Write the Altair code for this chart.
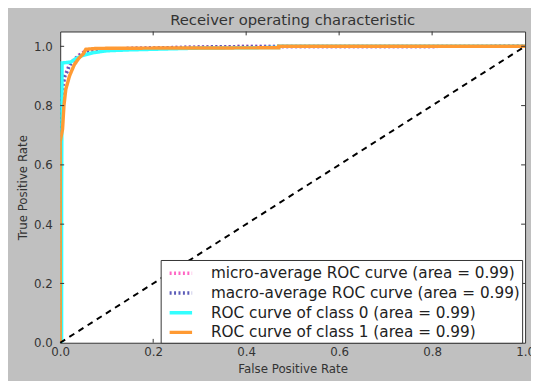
import altair as alt
import pandas as pd

# ---- data ----
series_names = [
    "micro-average ROC curve (area = 0.99)",
    "macro-average ROC curve (area = 0.99)",
    "ROC curve of class 0 (area = 0.99)",
    "ROC curve of class 1 (area = 0.99)",
]
series_colors = ["#ff66c4", "#5c5cb8", "#33ffff", "#ff9a33"]

micro_fpr = [0, 0, 0.003, 0.006, 0.01, 0.015, 0.02, 0.03, 0.04, 0.05, 0.07, 0.1, 0.15, 0.25, 0.35, 1.0]
micro_tpr = [0, 0.68, 0.78, 0.86, 0.9, 0.92, 0.94, 0.955, 0.97, 0.98, 0.985, 0.99, 0.993, 0.996, 0.999, 1.0]

macro_fpr = [0, 0, 0.003, 0.006, 0.01, 0.015, 0.02, 0.03, 0.04, 0.05, 0.07, 0.1, 0.15, 0.25, 0.35, 1.0]
macro_tpr = [0, 0.69, 0.8, 0.87, 0.9, 0.915, 0.935, 0.955, 0.968, 0.978, 0.985, 0.99, 0.993, 0.996, 0.999, 1.0]

c0_fpr = [0, 0.003, 0.003, 0.004, 0.012, 0.023, 0.035, 0.05, 0.07, 0.1, 0.15, 0.2, 0.3, 0.47, 0.47, 1.0]
c0_tpr = [0, 0.0, 0.5, 0.944, 0.945, 0.947, 0.96, 0.97, 0.978, 0.985, 0.988, 0.99, 0.994, 0.996, 1.0, 1.0]

c1_fpr = [0, 0, 0.005, 0.008, 0.012, 0.02, 0.03, 0.04, 0.05, 0.055, 0.08, 0.2, 0.47, 0.47, 1.0]
c1_tpr = [0, 0.68, 0.72, 0.8, 0.855, 0.9, 0.937, 0.96, 0.975, 0.99, 0.993, 0.994, 0.995, 1.0, 1.0]

diag_x = [0.0, 1.0]
diag_y = [0.0, 1.0]

x_ticks = [0.0, 0.2, 0.4, 0.6, 0.8, 1.0]
y_ticks = [0.0, 0.2, 0.4, 0.6, 0.8, 1.0]

# ---- tables ----
rows = []
for name, fx, ty in zip(series_names, [micro_fpr, macro_fpr, c0_fpr, c1_fpr],
                        [micro_tpr, macro_tpr, c0_tpr, c1_tpr]):
    for i, (a, b) in enumerate(zip(fx, ty)):
        rows.append({"series": name, "x": a, "y": b, "i": i})
curves_df = pd.DataFrame(rows)

diag_df = pd.DataFrame({"x": diag_x, "y": diag_y})

tx = 0.0085
ty_ = 0.013
tick_rows = []
for t in x_ticks[1:-1]:
    tick_rows.append({"x": t, "x2": t, "y": 0.0, "y2": ty_})
    tick_rows.append({"x": t, "x2": t, "y": 1.05, "y2": 1.05 - ty_})
for t in y_ticks[1:]:
    tick_rows.append({"x": 0.0, "x2": tx, "y": t, "y2": t})
    tick_rows.append({"x": 1.0, "x2": 1.0 - tx, "y": t, "y2": t})
ticks_df = pd.DataFrame(tick_rows)

FONT = "DejaVu Sans"
xscale = alt.Scale(domain=[0, 1], nice=False, zero=False)
yscale = alt.Scale(domain=[0, 1.05], nice=False, zero=False)

xaxis = alt.Axis(values=x_ticks, format=".1f", title="False Positive Rate",
                 labelFlush=False, labelPadding=4, titleY=30, titleBaseline="alphabetic")
yaxis = alt.Axis(values=y_ticks, format=".1f", title="True Positive Rate",
                 labelFlush=False, labelPadding=8, titleX=-34, titleBaseline="alphabetic")

X = alt.X("x:Q", scale=xscale, axis=xaxis)
Y = alt.Y("y:Q", scale=yscale, axis=yaxis)

legend = alt.Legend(
    title=None, orient="none", legendX=102, legendY=232,
    fillColor="white", strokeColor="#333333", padding=2,
    symbolType="M-1.2,0H1.2", symbolSize=361, symbolStrokeWidth=3, symbolOffset=7,
    labelOffset=19, labelFontSize=15.5, labelFont=FONT, labelColor="#222222",
    rowPadding=0, labelLimit=500,
)

curves = alt.Chart(curves_df).mark_line(clip=True).encode(
    x=X,
    y=Y,
    order="i:Q",
    color=alt.Color("series:N", scale=alt.Scale(domain=series_names, range=series_colors),
                    sort=series_names, legend=legend),
    strokeDash=alt.StrokeDash("series:N",
                              scale=alt.Scale(domain=series_names,
                                              range=[[2, 2.5], [2, 2.5], [1, 0], [1, 0]]),
                              sort=series_names, legend=legend),
    strokeWidth=alt.StrokeWidth("series:O",
                                scale=alt.Scale(domain=series_names, range=[3.5, 3.5, 2, 2]),
                                legend=None),
)

diag = alt.Chart(diag_df).mark_line(color="black", strokeDash=[6, 5], strokeWidth=2).encode(
    x=X, y=Y
)

ticks = alt.Chart(ticks_df).mark_rule(color="#333333", strokeWidth=1).encode(
    x=X, y=Y, x2="x2:Q", y2="y2:Q"
)

chart = alt.layer(curves, diag, ticks).properties(
    width=472,
    height=316,
    title=alt.TitleParams("Receiver operating characteristic", fontSize=15, font=FONT,
                          fontWeight="normal", color="#333333", anchor="middle",
                          frame="group", baseline="alphabetic", offset=5, dy=14),
    background="#c0c0c0",
    autosize=alt.AutoSizeParams(type="none"),
    padding={"left": 53, "top": 21, "right": 6, "bottom": 36},
).configure_view(
    fill="white", stroke="#333333", strokeWidth=1
).configure_axis(
    domain=False, ticks=False, grid=False,
    labelFont=FONT, labelFontSize=12, labelColor="#333333",
    titleFont=FONT, titleFontSize=12, titleFontWeight="normal", titleColor="#333333",
)

chart.save("out.html", embed_options={"renderer": "svg", "actions": False})
